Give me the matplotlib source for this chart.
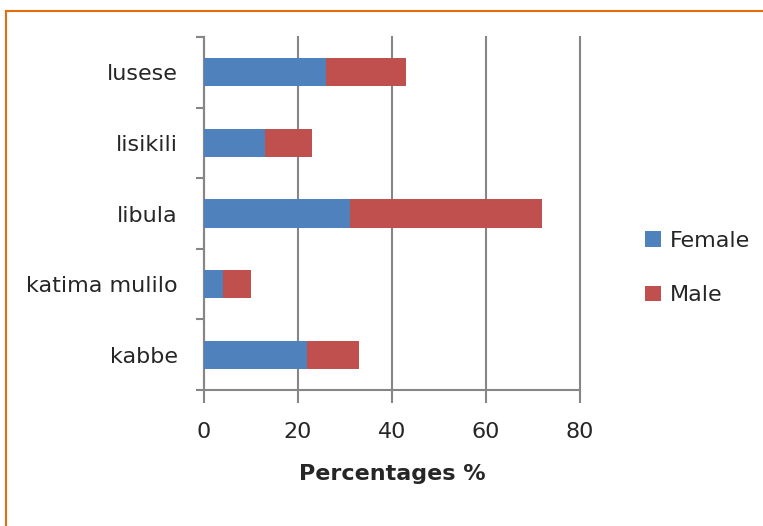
import matplotlib
matplotlib.use("Agg")
import matplotlib.pyplot as plt
from matplotlib.lines import Line2D

categories = ["kabbe", "katima mulilo", "libula", "lisikili", "lusese"]
female = [22, 4, 31, 13, 26]
male = [11, 6, 41, 10, 17]
xticks = [0, 20, 40, 60, 80]

W, H = 763, 526
fig = plt.figure(figsize=(W / 100, H / 100), dpi=100)
plt.rcParams['font.family'] = ['DejaVu Sans']

ax = fig.add_axes([204 / W, (H - 390) / H, (580 - 204) / W, (390 - 37) / H])
ypos = list(range(len(categories)))
ax.barh(ypos, female, height=0.4, color="#4F81BD", label="Female", zorder=3)
ax.barh(ypos, male, left=female, height=0.4, color="#C0504D", label="Male", zorder=3)

ax.set_xlim(0, 80)
ax.set_ylim(-0.5, len(categories) - 0.5)
ax.set_xticks(xticks)
ax.set_xticklabels([str(v) for v in xticks])
ax.grid(axis="x", color="#868686", linewidth=1.5, zorder=0)
for gl in ax.get_xgridlines():
    gl.set_clip_on(False)

ax.set_yticks(ypos)
ax.set_yticklabels(categories)
ax.set_yticks([i - 0.5 for i in range(len(categories) + 1)], minor=True)
ax.tick_params(axis="y", which="major", length=0, pad=19, labelsize=16, labelcolor="#262626")
ax.tick_params(axis="y", which="minor", length=6, width=1.5, color="#868686", direction="out")
ax.tick_params(axis="x", which="major", length=9, width=1.5, color="#868686", pad=14,
               labelsize=16, labelcolor="#262626")

for side in ["top", "right"]:
    ax.spines[side].set_visible(False)
for side in ["left", "bottom"]:
    ax.spines[side].set_color("#868686")
    ax.spines[side].set_linewidth(1.5)

ax.set_xlabel("Percentages %", fontsize=16, fontweight="bold", color="#262626", labelpad=16)

fig.legend(loc="center left", bbox_to_anchor=(645 / W, (H - 268) / H), frameon=False,
           fontsize=16, handlelength=0.7, handleheight=0.7, handletextpad=0.4,
           labelspacing=1.55, borderpad=0, borderaxespad=0, labelcolor="#262626")

orange = "#E46C0A"
fig.add_artist(Line2D([5.5 / W, 5.5 / W], [0, 1 - 10.5 / H], color=orange, linewidth=1.5,
                      transform=fig.transFigure))
fig.add_artist(Line2D([5.5 / W, 1], [1 - 10.5 / H, 1 - 10.5 / H], color=orange, linewidth=1.5,
                      transform=fig.transFigure))

fig.savefig("out.png", dpi=100)
